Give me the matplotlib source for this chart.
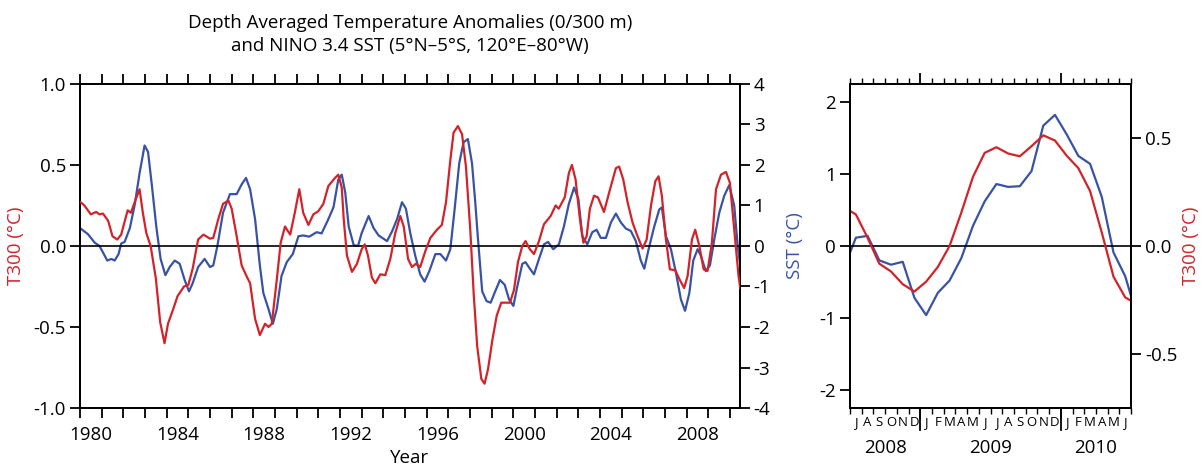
"""Depth averaged temperature anomalies vs NINO 3.4 SST"""
import matplotlib
matplotlib.use('Agg')
import matplotlib.pyplot as plt
import matplotlib.transforms as mtransforms
import numpy as np

plt.rcParams['font.family'] = ['Open Sans', 'DejaVu Sans']
plt.rcParams['axes.unicode_minus'] = False

RED = '#d2232a'
BLUE = '#3953a4'
FS = 13.5

# long record, T300 in degC
t300_year = [1980.03, 1980.2, 1980.5, 1980.75, 1980.9, 1981.06, 1981.3, 1981.5, 1981.72, 1981.9,
             1982.2, 1982.35, 1982.55, 1982.75, 1982.9, 1983.06, 1983.26, 1983.5, 1983.7, 1983.9,
             1984.06, 1984.3, 1984.5, 1984.8, 1985.0, 1985.2, 1985.45, 1985.7, 1986.0, 1986.15,
             1986.38, 1986.6, 1986.85, 1987.0, 1987.23, 1987.46, 1987.7, 1987.85, 1988.08, 1988.3,
             1988.54, 1988.7, 1988.85, 1989.08, 1989.26, 1989.46, 1989.7, 1989.92, 1990.12, 1990.3,
             1990.54, 1990.77, 1991.0, 1991.23, 1991.46, 1991.77, 1991.92, 1992.08, 1992.17, 1992.32,
             1992.55, 1992.78, 1993.0, 1993.14, 1993.29, 1993.47, 1993.63, 1993.86, 1994.09, 1994.32,
             1994.55, 1994.78, 1994.94, 1995.14, 1995.32, 1995.5, 1995.7, 1995.94, 1996.17, 1996.47,
             1996.7, 1996.89, 1997.09, 1997.24, 1997.44, 1997.63, 1997.81, 1998.01, 1998.17, 1998.33,
             1998.52, 1998.67, 1998.83, 1999.03, 1999.23, 1999.44, 1999.64, 1999.84, 2000.03, 2000.21,
             2000.41, 2000.56, 2000.76, 2000.95, 2001.18, 2001.41, 2001.72, 2001.95, 2002.09, 2002.37,
             2002.56, 2002.7, 2002.87, 2003.07, 2003.23, 2003.38, 2003.53, 2003.72, 2003.9, 2004.18,
             2004.46, 2004.73, 2004.88, 2005.07, 2005.27, 2005.5, 2005.73, 2005.96, 2006.15, 2006.35,
             2006.55, 2006.7, 2006.85, 2007.04, 2007.22, 2007.47, 2007.68, 2007.88, 2008.04, 2008.24,
             2008.39, 2008.58, 2008.78, 2008.96, 2009.16, 2009.35, 2009.58, 2009.81, 2009.99, 2010.19,
             2010.39, 2010.47]
t300_val = [0.27, 0.25, 0.195, 0.21, 0.195, 0.20, 0.155, 0.06, 0.04, 0.07,
            0.22, 0.205, 0.28, 0.35, 0.205, 0.08, 0.0, -0.2, -0.47, -0.6,
            -0.48, -0.39, -0.31, -0.25, -0.24, -0.14, 0.04, 0.07, 0.045, 0.05,
            0.165, 0.26, 0.28, 0.23, 0.06, -0.12, -0.19, -0.23, -0.45, -0.55,
            -0.48, -0.50, -0.48, -0.21, 0.02, 0.12, 0.07, 0.21, 0.35, 0.205,
            0.13, 0.195, 0.215, 0.26, 0.37, 0.42, 0.44, 0.36, 0.165, -0.06,
            -0.16, -0.11, -0.02, 0.01, -0.06, -0.195, -0.23, -0.175, -0.18, -0.08,
            0.08, 0.185, 0.12, -0.08, -0.13, -0.11, -0.13, -0.03, 0.05, 0.10,
            0.13, 0.27, 0.53, 0.70, 0.74, 0.69, 0.49, 0.10, -0.30, -0.62,
            -0.82, -0.85, -0.76, -0.58, -0.43, -0.35, -0.35, -0.35, -0.27, -0.10,
            0.0, 0.03, -0.02, -0.05, 0.03, 0.134, 0.185, 0.25, 0.23, 0.30,
            0.45, 0.50, 0.41, 0.165, 0.02, 0.06, 0.23, 0.31, 0.30, 0.21,
            0.35, 0.48, 0.49, 0.41, 0.27, 0.144, 0.06, -0.016, 0.04, 0.25,
            0.40, 0.43, 0.31, 0.04, -0.144, -0.15, -0.21, -0.26, -0.185, 0.04,
            0.10, 0.0, -0.144, -0.154, 0.02, 0.35, 0.44, 0.457, 0.39, 0.10,
            -0.185, -0.26]

# long record, NINO 3.4 SST anomaly in degC
sst_year = [1980.03, 1980.37, 1980.68, 1980.9, 1981.06, 1981.26, 1981.45, 1981.6, 1981.78, 1981.9,
            1982.06, 1982.3, 1982.52, 1982.75, 1982.98, 1983.14, 1983.32, 1983.52, 1983.72, 1983.94,
            1984.14, 1984.37, 1984.6, 1984.83, 1985.03, 1985.2, 1985.45, 1985.75, 1986.0, 1986.15,
            1986.34, 1986.6, 1986.92, 1987.23, 1987.46, 1987.66, 1987.85, 1988.08, 1988.3, 1988.46,
            1988.7, 1988.9, 1989.08, 1989.3, 1989.54, 1989.82, 1990.08, 1990.3, 1990.58, 1990.92,
            1991.15, 1991.46, 1991.7, 1991.92, 1992.08, 1992.24, 1992.4, 1992.63, 1992.83, 1993.0,
            1993.32, 1993.55, 1993.78, 1994.0, 1994.17, 1994.4, 1994.63, 1994.86, 1995.04, 1995.24,
            1995.47, 1995.7, 1995.9, 1996.12, 1996.4, 1996.63, 1996.89, 1997.09, 1997.29, 1997.5,
            1997.7, 1997.9, 1998.09, 1998.24, 1998.35, 1998.56, 1998.76, 1998.95, 1999.13, 1999.38,
            1999.6, 1999.8, 2000.0, 2000.18, 2000.41, 2000.56, 2000.76, 2000.95, 2001.18, 2001.41,
            2001.6, 2001.84, 2002.1, 2002.33, 2002.56, 2002.8, 2003.0, 2003.18, 2003.41, 2003.64,
            2003.84, 2004.03, 2004.27, 2004.5, 2004.73, 2004.96, 2005.19, 2005.42, 2005.65, 2005.88,
            2006.04, 2006.24, 2006.5, 2006.73, 2006.85, 2007.04, 2007.27, 2007.5, 2007.73, 2007.92,
            2008.12, 2008.3, 2008.5, 2008.65, 2008.88, 2009.07, 2009.27, 2009.5, 2009.73, 2009.96,
            2010.19, 2010.35, 2010.47]
sst_val = [0.43, 0.29, 0.08, 0.0, -0.16, -0.36, -0.32, -0.36, -0.2, 0.06,
           0.1, 0.44, 1.0, 1.8, 2.48, 2.32, 1.48, 0.48, -0.32, -0.72,
           -0.52, -0.36, -0.44, -0.84, -1.12, -0.92, -0.52, -0.32, -0.52, -0.48,
           0.0, 0.82, 1.28, 1.28, 1.52, 1.68, 1.4, 0.66, -0.48, -1.16,
           -1.56, -1.92, -1.56, -0.74, -0.4, -0.2, 0.24, 0.26, 0.23, 0.34,
           0.31, 0.66, 0.96, 1.64, 1.76, 1.32, 0.48, 0.02, 0.0, 0.32,
           0.74, 0.44, 0.26, 0.18, 0.12, 0.36, 0.66, 1.08, 0.92, 0.32,
           -0.24, -0.7, -0.88, -0.62, -0.2, -0.2, -0.36, -0.08, 0.92, 2.04,
           2.56, 2.64, 2.04, 1.08, 0.28, -1.12, -1.36, -1.4, -1.16, -0.84,
           -0.96, -1.32, -1.48, -1.0, -0.44, -0.4, -0.56, -0.7, -0.32, 0.04,
           0.1, -0.08, 0.04, 0.48, 1.04, 1.44, 1.16, 0.24, 0.04, 0.34,
           0.4, 0.2, 0.2, 0.58, 0.8, 0.58, 0.43, 0.37, 0.12, -0.36,
           -0.56, -0.08, 0.48, 0.9, 0.95, 0.24, -0.08, -0.66, -1.32, -1.6,
           -1.16, -0.36, -0.08, -0.24, -0.62, -0.48, 0.16, 0.82, 1.24, 1.5,
           1.0, 0.0, -0.48]

# recent monthly values, Jun 2008 .. Jul 2010
month_sst = [-0.3, 0.115, 0.14, -0.2, -0.26, -0.22, -0.72, -0.96, -0.65, -0.48, -0.17, 0.28, 0.62,
             0.86, 0.82, 0.83, 1.04, 1.67, 1.82, 1.55, 1.25, 1.14, 0.68, -0.09, -0.42, -0.97]
month_t300 = [0.178, 0.146, 0.038, -0.082, -0.118, -0.177, -0.211, -0.165, -0.097, 0.0, 0.154, 0.32,
              0.431, 0.457, 0.428, 0.415, 0.462, 0.512, 0.488, 0.418, 0.36, 0.254, 0.062, -0.142,
              -0.238, -0.27]
month_letters = list('JASONDJFMAMJJASONDJFMAMJ')
panel_years = ['2008', '2009', '2010']

fig = plt.figure(figsize=(12.03, 4.67), dpi=100)

# ---- left panel
ax = fig.add_axes([0.0665, 0.1263, 0.5485, 0.694])
axr = ax.twinx()
axr.plot(sst_year, sst_val, color=BLUE, lw=1.6)
ax.plot(t300_year, t300_val, color=RED, lw=1.6, zorder=5)
ax.set_zorder(axr.get_zorder() + 1)
ax.patch.set_visible(False)
ax.axhline(0, color='black', lw=1.2)

ax.set_xlim(1980, 2010.45)
ax.set_ylim(-1, 1)
axr.set_ylim(-4, 4)
ax.set_yticks([-1, -0.5, 0, 0.5, 1])
ax.set_yticklabels(['-1.0', '-0.5', '0.0', '0.5', '1.0'])
axr.set_yticks(range(-4, 5))
ax.set_xticks(range(1980, 2011))
ax.set_xticklabels([])
label_years = list(range(1980, 2009, 4))
ax.set_xticks([y + 0.5 for y in label_years], minor=True)
ax.set_xticklabels([str(y) for y in label_years], minor=True)
ax.tick_params(axis='x', which='major', direction='out', length=7, width=1.3, top=True)
ax.tick_params(axis='x', which='minor', length=0, pad=13, labelsize=FS)
ax.tick_params(axis='y', direction='out', length=7, width=1.3, labelsize=FS, pad=3)
axr.tick_params(axis='y', direction='out', length=7, width=1.3, labelsize=FS, pad=3)
for a in (ax, axr):
    for s in a.spines.values():
        s.set_linewidth(1.3)
ax.set_ylabel('T300 (°C)', color=RED, fontsize=FS)
ax.yaxis.set_label_coords(-0.083, 0.5)
ax.set_xlabel('Year', fontsize=FS)
ax.xaxis.set_label_coords(0.5, -0.125)
ax.set_title('Depth Averaged Temperature Anomalies (0/300 m)\n'
             'and NINO 3.4 SST (5°N–5°S, 120°E–80°W)', fontsize=13.5, pad=24, linespacing=1.3)

# ---- right panel
ax2 = fig.add_axes([0.7066, 0.1263, 0.2336, 0.694])
ax2r = ax2.twinx()
mx = np.arange(len(month_sst)) - 0.5
ax2.plot(mx, month_sst, color=BLUE, lw=1.6)
ax2r.plot(mx, month_t300, color=RED, lw=1.6)
ax2.axhline(0, color='black', lw=1.2)
ax2.set_xlim(0, 24)
ax2r.set_xlim(0, 24)
ax2.set_ylim(-2.25, 2.25)
ax2r.set_ylim(-0.75, 0.75)
ax2.set_yticks([-2, -1, 0, 1, 2])
ax2r.set_yticks([-0.5, 0, 0.5])
ax2r.set_yticklabels(['-0.5', '0.0', '0.5'])
ax2.set_xticks([6, 18])
ax2.set_xticklabels([])
ax2.set_xticks(range(25), minor=True)
ax2.tick_params(axis='x', which='major', direction='out', length=8, width=1.3, top=True)
ax2.tick_params(axis='x', which='minor', direction='out', length=4, width=1.0, top=True)
ax2.tick_params(axis='y', direction='out', length=7, width=1.3, labelsize=FS, pad=3)
ax2r.tick_params(axis='y', direction='out', length=7, width=1.3, labelsize=FS, pad=3)
for a in (ax2, ax2r):
    for s in a.spines.values():
        s.set_linewidth(1.3)
for xb in (6, 18):
    ax2.axvline(xb, ymin=-0.068, ymax=0, color='black', lw=1.3, clip_on=False)

trans = mtransforms.blended_transform_factory(ax2.transData, ax2.transAxes)
for i, m in enumerate(month_letters):
    ax2.text(i + 0.5, -0.026, m, transform=trans, ha='center', va='top', fontsize=9.5)
for xc, yr in zip([3, 12, 21], panel_years):
    ax2.text(xc, -0.097, yr, transform=trans, ha='center', va='top', fontsize=FS)

ax2.set_ylabel('SST (°C)', color=BLUE, fontsize=FS)
ax2.yaxis.set_label_coords(-0.164, 0.5)
ax2r.set_ylabel('T300 (°C)', color=RED, fontsize=FS, rotation=90)
ax2r.yaxis.set_label_coords(1.18, 0.5)

fig.savefig('out.png', dpi=100)
